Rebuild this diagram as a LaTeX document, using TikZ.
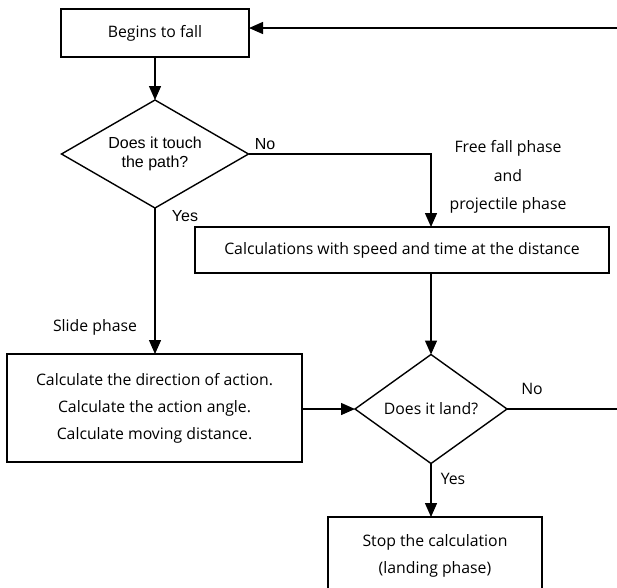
\documentclass[tikz,border=0pt]{standalone}
\usepackage{fontspec}
\setmainfont{Open Sans}
\newfontfamily\arialfont{Liberation Sans}
\usetikzlibrary{shapes.geometric,arrows.meta}

\begin{document}
\begin{tikzpicture}[x=1pt,y=-1pt,line width=1.4pt,
    flow/.style={-{Triangle[length=14pt,width=12pt]}},
    box/.style={draw,rectangle,align=center,inner sep=0pt,outer sep=0pt,
        font=\fontsize{15.8}{27}\selectfont},
    decide/.style={draw,diamond,align=center,inner sep=0pt,outer sep=0pt},
    note/.style={align=center,inner sep=0pt,font=\fontsize{15.8}{28.5}\selectfont}]
    \useasboundingbox (0,0) rectangle (617,587);
    \begin{scope}
        \clip (0,0) rectangle (617,587);

        % boxes and decisions
        \node[box,minimum width=188pt,minimum height=48pt] (begin) at (155,33) {Begins to fall};
        \node[decide,aspect=1.73,minimum width=187pt,minimum height=108pt,
            font=\arialfont\fontsize{16}{18.5}\selectfont] (touch) at (155,154) {Does it touch\\the path?};
        \node[box,minimum width=414pt,minimum height=46pt] (speed) at (402,250)
            {Calculations with speed and time at the distance};
        \node[box,minimum width=295pt,minimum height=108pt] (slide) at (154.5,408)
            {Calculate the direction of action.\\Calculate the action angle.\\Calculate moving distance.};
        \node[decide,aspect=1.4,minimum width=152pt,minimum height=109pt,
            font=\fontsize{15.8}{18}\selectfont] (land) at (431,409) {Does it land?};
        \node[box,minimum width=214pt,minimum height=78pt] (stop) at (435,556)
            {Stop the calculation\\(landing phase)};

        \coordinate (back) at (617,28);
        \coordinate (out) at (617,409);

        % connectors
        \draw[flow] (back) -- (back -| begin.east);
        \draw[flow] (begin) -- (touch);
        \draw[flow] (touch.east) -| (speed.north -| land.north);
        \draw[flow] (touch.south) -- (slide.north -| touch.south);
        \draw[flow] (speed.south -| land.north) -- (land.north);
        \draw[flow] (slide.east |- land.west) -- (land.west);
        \draw (land.east) -- (out);
        \draw[flow] (land.south) -- (land.south |- stop.north);

        % labels
        \node[font=\arialfont\fontsize{16}{18}\selectfont] (no1) at (265,144) {No};
        \node[font=\arialfont\fontsize{16}{18}\selectfont] (yes1) at (185,216) {Yes};
        \node[note] (free) at (508,177) {Free fall phase\\and\\projectile phase};
        \node[note] (slidelbl) at (95,327) {Slide phase};
        \node[note] (no2) at (532,389) {No};
        \node[note] (yes2) at (453,479) {Yes};
    \end{scope}
\end{tikzpicture}
\end{document}
